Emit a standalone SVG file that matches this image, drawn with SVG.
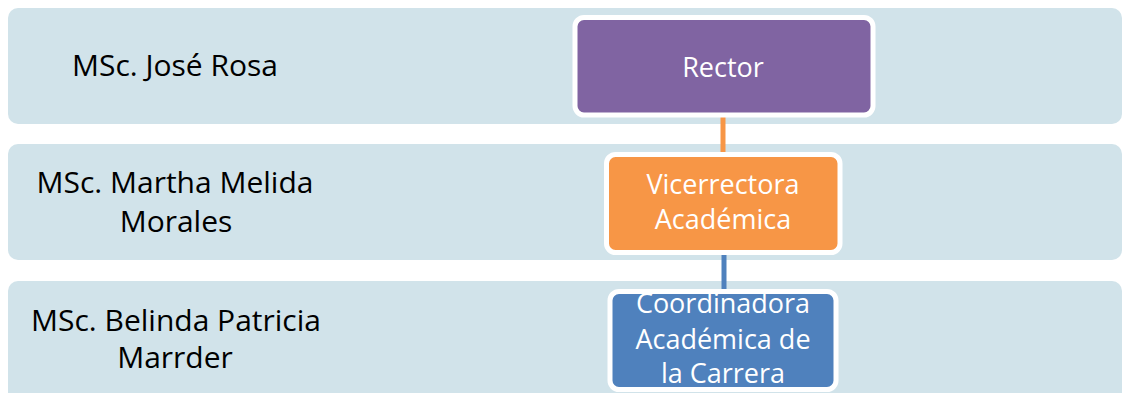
<svg xmlns="http://www.w3.org/2000/svg" width="1123" height="393" viewBox="0 0 1123 393">
<style>
.band{fill:#D1E3EA}
.lbl{font-family:"Open Sans","Liberation Sans",sans-serif;font-size:30px;fill:#000;text-anchor:middle}
.box{stroke:#FFFFFF;stroke-width:5}
.btxt{font-family:"Open Sans","Liberation Sans",sans-serif;font-size:27px;fill:#FFFFFF;text-anchor:middle}
.conn{stroke-width:5;fill:none}
</style>
<rect width="1123" height="393" fill="#FFFFFF"/>
<g id="band1">
<rect class="band" x="8" y="8" width="1114" height="116" rx="10"/>
<text class="lbl" x="175" y="76">MSc. José Rosa</text>
</g>
<g id="band2">
<rect class="band" x="8" y="144" width="1114" height="116" rx="10"/>
<text class="lbl" x="175" y="193">MSc. Martha Melida</text>
<text class="lbl" x="176" y="232">Morales</text>
</g>
<g id="band3">
<rect class="band" x="8" y="281" width="1114" height="130" rx="10"/>
<text class="lbl" x="176" y="331">MSc. Belinda Patricia</text>
<text class="lbl" x="175" y="368">Marrder</text>
</g>
<g id="connectors">
<line class="conn" x1="723" y1="115" x2="723" y2="156" stroke="#F79646"/>
<line class="conn" x1="724" y1="252" x2="724" y2="293" stroke="#4F81BD"/>
</g>
<g id="rector">
<rect class="box" x="575" y="17.5" width="298" height="97.5" rx="9" fill="#8064A2"/>
<text class="btxt" x="723" y="77">Rector</text>
</g>
<g id="vicerrectora">
<rect class="box" x="606.5" y="154.5" width="233.5" height="98" rx="9" fill="#F79646"/>
<text class="btxt" x="723" y="194">Vicerrectora</text>
<text class="btxt" x="723" y="229">Académica</text>
</g>
<g id="coordinadora">
<rect class="box" x="610" y="291.5" width="226" height="98" rx="9" fill="#4F81BD"/>
<text class="btxt" x="723" y="313">Coordinadora</text>
<text class="btxt" x="723" y="349">Académica de</text>
<text class="btxt" x="723" y="383">la Carrera</text>
</g>
</svg>
